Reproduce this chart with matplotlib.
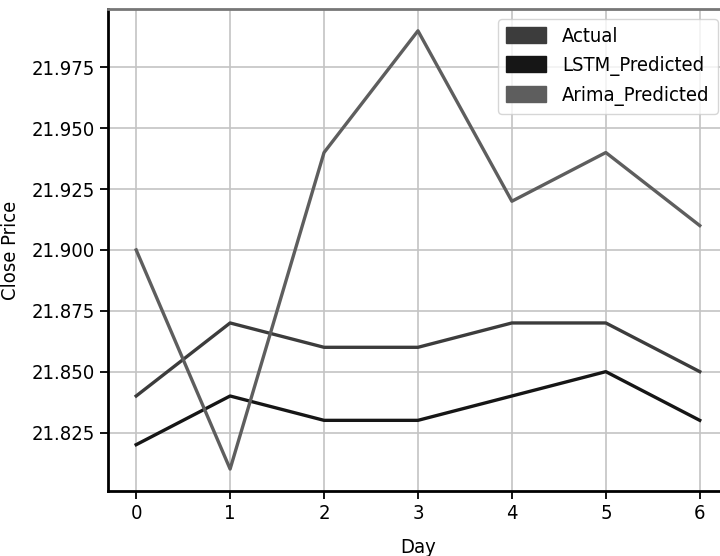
import matplotlib
matplotlib.use("Agg")
import matplotlib.pyplot as plt
from matplotlib.patches import Patch

days = [0, 1, 2, 3, 4, 5, 6]
actual = [21.84, 21.87, 21.86, 21.86, 21.87, 21.87, 21.85]
lstm = [21.82, 21.84, 21.83, 21.83, 21.84, 21.85, 21.83]
arima = [21.90, 21.81, 21.94, 21.99, 21.92, 21.94, 21.91]
labels = ["Actual", "LSTM_Predicted", "Arima_Predicted"]
colors = ["#3c3c3c", "#161616", "#5e5e5e"]
yticks = [21.825, 21.85, 21.875, 21.9, 21.925, 21.95, 21.975]

plt.rcParams["font.family"] = ["DejaVu Sans"]
plt.rcParams["font.stretch"] = "condensed"
FS = 14.5

fig = plt.figure(figsize=(7.2, 5.56), dpi=100)
ax = fig.add_axes([0.15, 0.117, 0.861, 0.867])
for series, c in zip([actual, lstm, arima], colors):
    ax.plot(days, series, color=c, linewidth=2.4)

ax.grid(True, color="#c4c4c4", linewidth=1.2)
ax.set_xticks(days)
ax.set_yticks(yticks)
ax.set_yticklabels([f"{v:.3f}" for v in yticks])
ax.tick_params(labelsize=FS, width=1.3, length=6)
for s in ax.spines.values():
    s.set_linewidth(2)
ax.spines["top"].set_color("#777777")
ax.set_xlabel("Day", fontsize=FS)
ax.set_ylabel("Close Price", fontsize=FS)
ax.yaxis.set_label_coords(-0.142, 0.5)
ax.xaxis.set_label_coords(0.5, -0.098)

handles = [Patch(facecolor=c, edgecolor=c) for c in colors]
ax.legend(handles, labels, loc="upper right", fontsize=FS,
          handlelength=2.0, handleheight=0.85)

fig.savefig("out.png", dpi=100)
